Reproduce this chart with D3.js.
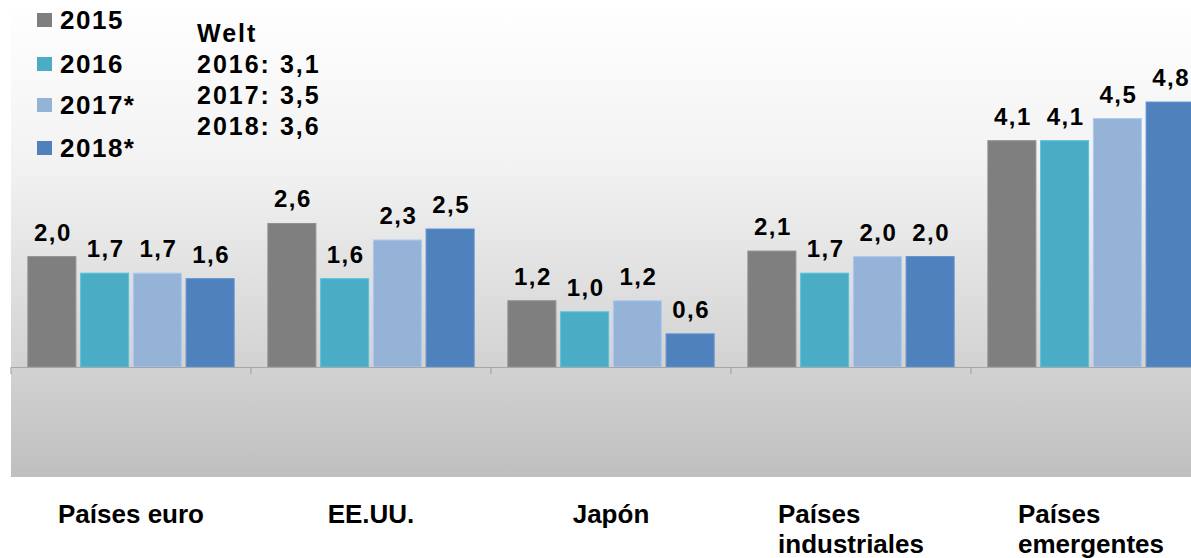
<!DOCTYPE html>
<html><head><meta charset="utf-8">
<script src="https://cdn.jsdelivr.net/npm/d3@7"></script>
<style>
html,body{margin:0;padding:0;background:#fff;}
svg{display:block;font-family:"Liberation Sans",Arial,sans-serif;}
</style></head>
<body>
<svg id="c" width="1191" height="558"></svg>
<script>
const categories = [["Países euro"], ["EE.UU."], ["Japón"], ["Países","industriales"], ["Países","emergentes"]];
const seriesNames = ["2015", "2016", "2017*", "2018*"];
const seriesColors = ["#7f7f7f", "#4bacc6", "#95b3d7", "#4f81bd"];
const v2015 = [2.0, 2.6, 1.2, 2.1, 4.1];
const v2016 = [1.7, 1.6, 1.0, 1.7, 4.1];
const v2017 = [1.7, 2.3, 1.2, 2.0, 4.5];
const v2018 = [1.6, 2.5, 0.6, 2.0, 4.8];
const worldLines = ["Welt", "2016: 3,1", "2017: 3,5", "2018: 3,6"];

const series = [v2015, v2016, v2017, v2018];
const svg = d3.select("#c");
const W = 1191;

const panel = {x0: 11, x1: 1211, top: 0, base: 367, bottom: 477};

const defs = svg.append("defs");
const grad = defs.append("linearGradient").attr("id","bg").attr("x1",0).attr("y1",0).attr("x2",0).attr("y2",1);
grad.append("stop").attr("offset","0%").attr("stop-color","#ffffff");
grad.append("stop").attr("offset","35%").attr("stop-color","#f2f2f2");
grad.append("stop").attr("offset","77%").attr("stop-color","#d2d2d2");
grad.append("stop").attr("offset","100%").attr("stop-color","#bfbfbf");

svg.append("rect").attr("x", panel.x0).attr("y", panel.top)
  .attr("width", W - panel.x0).attr("height", panel.bottom - panel.top)
  .attr("fill", "url(#bg)");

const x0 = d3.scaleBand().domain(d3.range(categories.length))
  .range([panel.x0, panel.x1]).paddingInner(0).paddingOuter(0);
const x1 = d3.scaleBand().domain(d3.range(series.length))
  .range([0, x0.bandwidth()]).paddingOuter(0.32).paddingInner(0.09);
const y = d3.scaleLinear().domain([0, 5]).range([panel.base, panel.base - 5 * 55.2]);

// bars
const groups = svg.append("g").selectAll("g").data(categories).join("g")
  .attr("transform", (d,i) => `translate(${x0(i)},0)`);

groups.each(function(cat, ci) {
  const g = d3.select(this);
  series.forEach((s, si) => {
    const v = s[ci];
    g.append("rect")
      .attr("x", x1(si)).attr("y", y(v))
      .attr("width", x1.bandwidth()).attr("height", y(0) - y(v))
      .attr("fill", seriesColors[si])
      .attr("stroke", d3.color(seriesColors[si]).brighter(0.35))
      .attr("stroke-width", 1);
    g.append("text")
      .attr("x", x1(si) + x1.bandwidth()/2 + 1)
      .attr("y", y(v) - 16)
      .attr("text-anchor", "middle")
      .attr("font-size", 24).attr("font-weight", "bold")
      .attr("letter-spacing", 1.5)
      .attr("fill", "#000")
      .text(d3.format(".1f")(v).replace(".", ","));
  });
});

// axis
const axis = d3.axisBottom(x0).tickSize(0).tickFormat("");
const ax = svg.append("g").attr("transform", `translate(0,${panel.base})`).call(axis);
ax.select(".domain").attr("stroke", "#a6a6a6").attr("stroke-width", 1.2);
const boundaries = d3.range(categories.length + 1).map(i => panel.x0 + i * x0.bandwidth());
ax.selectAll(".bnd").data(boundaries).join("line").attr("class","bnd")
  .attr("x1", d => d).attr("x2", d => d).attr("y1", 0).attr("y2", 7)
  .attr("stroke", "#a6a6a6").attr("stroke-width", 1.2);

// category labels
categories.forEach((lines, ci) => {
  const cx = x0(ci) + x0.bandwidth()/2;
  const t = svg.append("text").attr("font-size", 26).attr("font-weight", "bold").attr("fill", "#000");
  lines.forEach((ln, li) => {
    t.append("tspan").attr("y", 523 + li * 30).text(ln);
  });
  let maxW = 0;
  t.selectAll("tspan").each(function(){ maxW = Math.max(maxW, this.getComputedTextLength()); });
  t.selectAll("tspan").attr("x", cx - maxW/2);
});

// legend
const legY = [20, 64, 105, 148];
const leg = svg.append("g");
seriesNames.forEach((nm, i) => {
  leg.append("rect").attr("x", 37).attr("y", legY[i] - 7).attr("width", 15).attr("height", 14)
    .attr("fill", seriesColors[i]);
  leg.append("text").attr("x", 60).attr("y", legY[i] + 9)
    .attr("font-size", 26).attr("font-weight", "bold").attr("letter-spacing", 1.5)
    .attr("fill", "#000").text(nm);
});

// world annotation
const wt = svg.append("text").attr("font-size", 25).attr("font-weight", "bold")
  .attr("letter-spacing", 2).attr("fill", "#000");
worldLines.forEach((ln, i) => {
  wt.append("tspan").attr("x", 197).attr("y", 42 + i * 31).text(ln);
});
</script>
</body></html>
